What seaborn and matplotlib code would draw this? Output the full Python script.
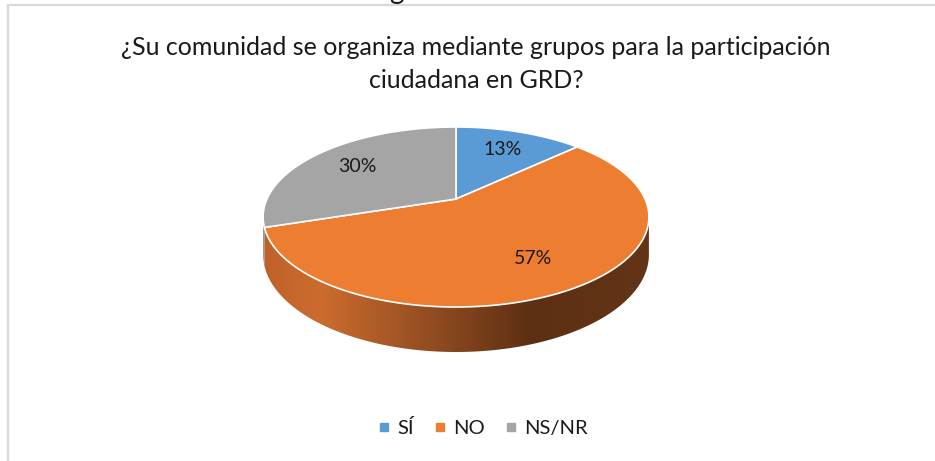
import numpy as np
import matplotlib
matplotlib.use("Agg")
import matplotlib.pyplot as plt
import seaborn as sns
from matplotlib.patches import Polygon, Rectangle
from matplotlib.lines import Line2D
from matplotlib.colors import LinearSegmentedColormap
from matplotlib.transforms import Transform
from matplotlib.path import Path

# ---------------- data ----------------
categories = ["SÍ", "NO", "NS/NR"]
values = [13, 57, 30]
colors = ["#5B9BD5", "#ED7D31", "#A5A5A5"]
side_colors = [
    ["#3f7fba", "#2e6293"],
    [(0.0, "#bf6129"), (0.15, "#cc6c2f"), (0.69, "#5e3013"), (1.0, "#633416")],
    ["#8e8e8e", "#6e6e6e"],
]
title = "¿Su comunidad se organiza mediante grupos para la participación\nciudadana en GRD?"

sns.set_theme(style="white")
plt.rcParams['font.family'] = ['Lato', 'DejaVu Sans']

W, H = 935, 461
fig = plt.figure(figsize=(W / 100, H / 100), dpi=100)
fig.patch.set_facecolor("white")

# chart frame
fig.add_artist(Rectangle((7.5 / W, -0.05), 1.1, 1 - 5.5 / H + 0.05,
                         transform=fig.transFigure, fill=False,
                         edgecolor="#d9d9d9", linewidth=1.6))
# clipped heading letter above the chart
fig.text(396 / W, 1 + 0.5 / H, "g", fontsize=20, ha="center", va="baseline",
         color="#1a1a1a")


# ---------------- perspective projection for the 3-D look ----------------
class Perspective(Transform):
    input_dims = output_dims = 2
    is_separable = False
    has_inverse = False

    def __init__(self, k):
        super().__init__()
        self.k = k

    def transform_non_affine(self, xy):
        xy = np.asarray(xy, dtype=float).reshape(-1, 2)
        den = 1 + self.k * xy[:, 1]
        return np.column_stack([xy[:, 0] / den, xy[:, 1] / den])

    def transform_path_non_affine(self, path):
        verts, codes = [], []
        for bez, code in path.iter_bezier():
            if code == Path.MOVETO:
                pts = np.asarray(bez.control_points)[:1]
                verts.append(pts)
                codes += [Path.MOVETO]
            else:
                n = 2 if bez.degree <= 1 else 40
                pts = np.asarray(bez(np.linspace(0, 1, n)))[1:]
                verts.append(pts)
                codes += [Path.LINETO] * len(pts)
        v = np.concatenate(verts)
        return Path(self.transform_non_affine(v), codes)


k = 0.2                       # perspective strength
cx, cy = 456, 199             # pie centre (pixels, from top-left)
A, B = 189, 86.4              # pixel size of one unit in x / y
dz = 36 / B                   # thickness of the pie
persp = Perspective(k)

xl = (-1.2, 1.2)
yl = (-2.0, 1.2)
left = cx + xl[0] * A
width = (xl[1] - xl[0]) * A
top = cy - yl[1] * B
height = (yl[1] - yl[0]) * B
ax = fig.add_axes([left / W, 1 - (top + height) / H, width / W, height / H])

# visible side range (tangent points of the silhouette)
tang = np.degrees(np.arcsin(k))
front_lo, front_hi = -180 + tang, -tang

cum = np.concatenate([[0], np.cumsum(values) / np.sum(values)])
for i in range(len(values)):
    s = 90 - 360 * cum[i + 1]
    e = 90 - 360 * cum[i]
    for sh in (-360, 0, 360):
        lo = max(s + sh, front_lo)
        hi = min(e + sh, front_hi)
        if hi > lo:
            t = np.radians(np.linspace(lo, hi, 200))
            x, y = np.cos(t), np.sin(t)
            den = 1 + k * y
            top_pts = np.column_stack([x / den, y / den])
            bot_pts = np.column_stack([x / den, (y - dz) / den])
            pts = np.concatenate([top_pts, bot_pts[::-1]])
            poly = Polygon(pts, closed=True, transform=ax.transData,
                           facecolor="none", edgecolor="none")
            ax.add_patch(poly)
            cmap = LinearSegmentedColormap.from_list(f"side{i}", side_colors[i])
            grad = np.linspace(0, 1, 512).reshape(1, -1)
            xm = 1 / np.sqrt(1 - k * k)
            im = ax.imshow(grad, extent=[-xm, xm, -2.0, 0.2], cmap=cmap,
                           aspect="auto", zorder=0.5, interpolation="bilinear")
            im.set_clip_path(poly)

wedges, texts, autotexts = ax.pie(
    values, colors=colors, startangle=90, counterclock=False, radius=1,
    autopct=lambda p: f"{p:.0f}%", pctdistance=0.70,
    wedgeprops=dict(edgecolor="white", linewidth=1.2),
    textprops=dict(fontsize=14, color="#1a1a1a"))
for w in wedges:
    w.set_transform(persp + ax.transData)
    w.set_zorder(2)
for t in autotexts:
    px, py = t.get_position()
    nx, ny = persp.transform_non_affine(np.array([[px, py]]))[0]
    t.set_position((nx, ny))
    t.set_zorder(3)
ax.set_aspect("auto")
ax.set_xlim(xl)
ax.set_ylim(yl)
ax.axis("off")

# title
fig.text(476 / W, 1 - 64 / H, title, ha="center", va="center", fontsize=18,
         color="#1a1a1a", linespacing=1.5)

# legend
handles = [Line2D([0], [0], marker="s", linestyle="none", markersize=6,
                  markerfacecolor=c, markeredgecolor=c) for c in colors]
fig.legend(handles, categories, loc="center", bbox_to_anchor=(482 / W, 1 - 428 / H),
           ncol=3, frameon=False, fontsize=14.5, handletextpad=0.25,
           columnspacing=0.9, handlelength=0.8, labelcolor="#1a1a1a")

fig.savefig("out.png", dpi=100, facecolor="white")
